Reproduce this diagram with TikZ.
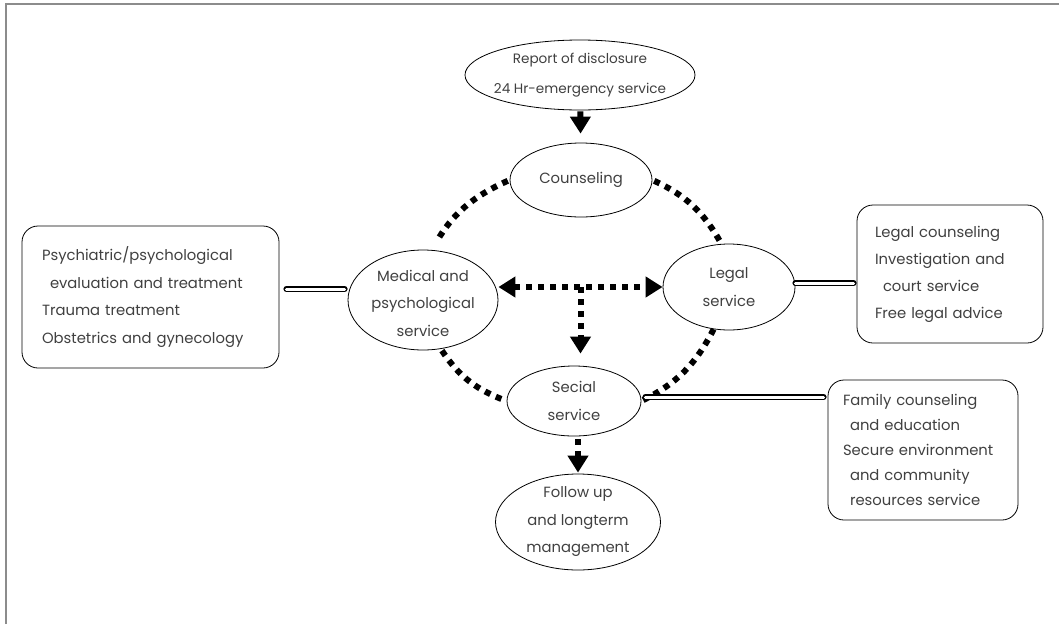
\documentclass[tikz,border=0pt]{standalone}
\usepackage{fontspec}
\setmainfont{Poppins}
\usetikzlibrary{arrows.meta,positioning,calc,shapes.geometric}

\begin{document}
\begin{tikzpicture}[
  x=1pt, y=-1pt,
  every node/.style={font=\fontsize{14.8}{27.5}\selectfont, text=black!75},
  oval/.style={draw=black, ellipse, inner sep=0pt, line width=0.8pt},
  txt/.style={align=center},
  info/.style={draw=black, rounded corners=16pt, align=left, inner xsep=18pt, line width=0.8pt},
  dots/.style={line width=6pt, dash pattern=on 6pt off 6pt},
  tip/.style={-{Triangle[width=20pt,length=17pt]}},
  tips/.style={{Triangle[width=20pt,length=17pt]}-{Triangle[width=20pt,length=17pt]}},
  pipe/.style={draw=black, double=white, double distance=3pt, line width=1.5pt, line cap=round}
]
  \useasboundingbox (0,0) rectangle (1059,624);
  \draw[black!45, line width=2pt] (6,624) -- (6,4) -- (1059,4);

  % services
  \node[oval, minimum width=230pt, minimum height=70pt,
    label={[txt, name=rep-t, font=\fontsize{13.6}{30}\selectfont]center:Report of disclosure\\24 Hr-emergency service}] (rep) at (580,75) {};
  \node[oval, minimum width=142pt, minimum height=74pt,
    label={[txt, name=cou-t]center:Counseling}] (cou) at (581,180) {};
  \node[oval, minimum width=150pt, minimum height=100pt,
    label={[txt, name=med-t, yshift=-3pt]center:Medical and\\psychological\\service}] (med) at (423,300) {};
  \node[oval, minimum width=132pt, minimum height=86pt,
    label={[txt, name=leg-t]center:Legal\\service}] (leg) at (729,287) {};
  \node[oval, minimum width=134pt, minimum height=70pt,
    label={[txt, name=soc-t]center:Secial\\service}] (soc) at (574,401) {};
  \node[oval, minimum width=165pt, minimum height=96pt,
    label={[txt, name=fol-t]center:Follow up\\and longterm\\management}] (fol) at (578,522) {};

  % details
  \node[info, inner xsep=20pt, text width=217pt, minimum height=142pt] (medbox) at (150.5,297)
    {Psychiatric/psychological\\\hspace*{8pt}evaluation and treatment\\Trauma treatment\\Obstetrics and gynecology};
  \node[info, text width=150pt, minimum height=138pt, font=\fontsize{14.8}{27}\selectfont] (legbox) at (950,274)
    {Legal counseling\\Investigation and\\\hspace*{8pt}court service\\Free legal advice};
  \node[info, inner xsep=15pt, text width=160pt, minimum height=140pt,
    font=\fontsize{14.8}{25}\selectfont] (socbox) at (923,450)
    {Family counseling\\\hspace*{7pt}and education\\Secure environment\\\hspace*{7pt}and community\\\hspace*{7pt}resources service};

  % flow
  \draw[dots, tip, shorten <=1pt, shorten >=9pt] (rep) -- (cou);
  \draw[dots, tips] (leg.west -| med.east) -- (leg.west);
  \coordinate (mid) at ($(med.east)!0.5!(leg.west)$);
  \draw[dots, tip, shorten >=12pt] (mid |- leg.west) -- (mid |- soc.north);
  \draw[dots, tip, shorten <=3pt, shorten >=1pt] (soc.south -| fol.north) -- (fol.north);

  % ring
  \draw[dots, shorten <=2pt, shorten >=10pt] (cou.west) to[bend right=18] (med.80);
  \draw[dots, shorten <=2pt] (cou.east) to[bend left=18] (leg.100);
  \draw[dots, shorten <=2pt] (med.-70) to[bend right=18] (soc.west);
  \draw[dots, shorten <=2pt] (soc.east) to[bend right=18] (leg.-110);

  % links
  \draw[pipe, shorten <=7pt, shorten >=3pt] ([yshift=8pt]medbox.east) -- ([yshift=8pt]medbox.east -| med.west);
  \draw[pipe, shorten >=3pt] ([yshift=4pt]leg.east) -- ([yshift=4pt]leg.east -| legbox.west);
  \draw[pipe, shorten <=4pt, shorten >=4pt] ([yshift=4pt]soc.east) -- ([yshift=4pt]soc.east -| socbox.west);
\end{tikzpicture}
\end{document}
